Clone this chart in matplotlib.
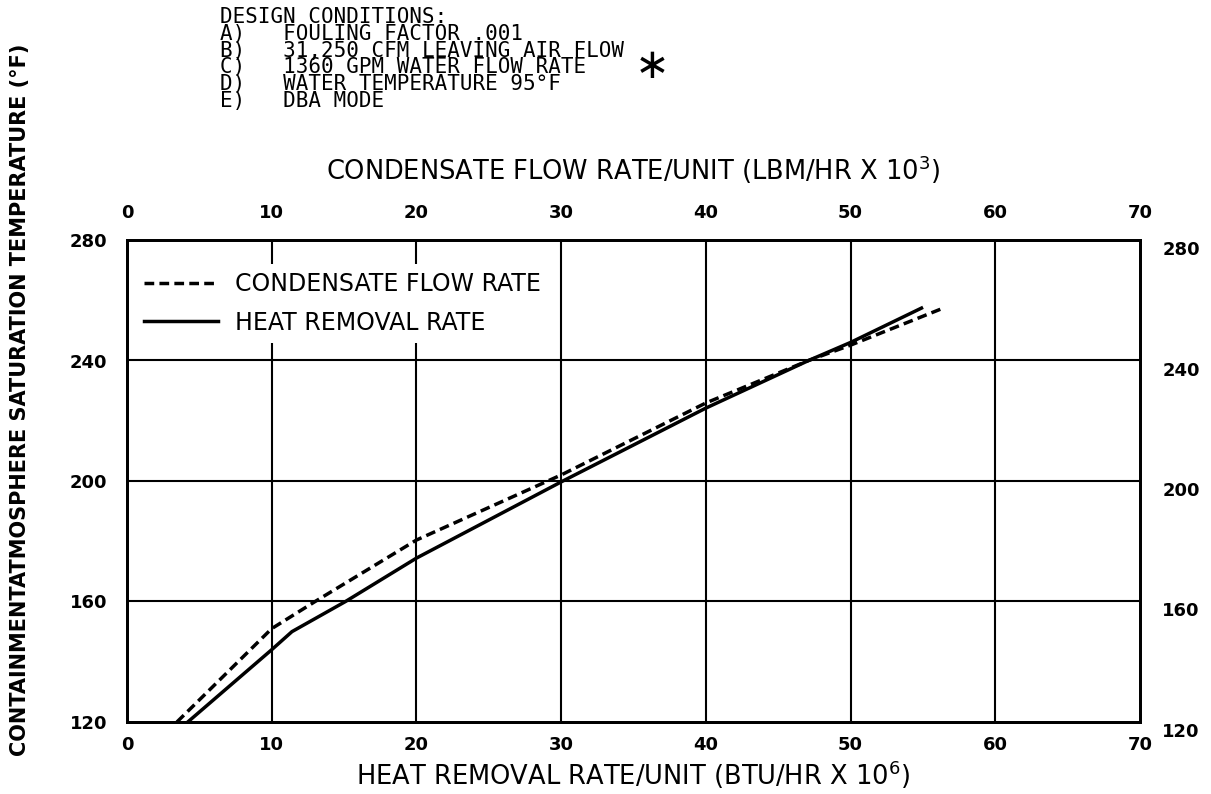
import matplotlib
matplotlib.use("Agg")
import matplotlib.pyplot as plt
from matplotlib.transforms import ScaledTranslation

# ---- data ----
condensate_x = [3.45, 10, 13, 20, 30, 40, 47.1, 50, 56.2]
condensate_y = [120, 151, 160, 180.4, 202, 225.9, 240, 245.1, 257]
heat_x = [4.2, 10, 11.4, 15.1, 20, 30, 40, 47.1, 50, 54.9]
heat_y = [120, 144, 150, 160, 174.4, 199.7, 224.2, 240, 246, 257.4]

x_ticks = [0, 10, 20, 30, 40, 50, 60, 70]
y_ticks = [120, 160, 200, 240, 280]
x_grid = [10, 20, 30, 40, 50, 60]
y_grid = [160, 200, 240]

design_title = "DESIGN CONDITIONS:"
design_labels = ["A)", "B)", "C)", "D)", "E)"]
design_items = ["FOULING FACTOR .001",
                "31,250 CFM LEAVING AIR FLOW",
                "1360 GPM WATER FLOW RATE",
                "WATER TEMPERATURE 95\u00b0F",
                "DBA MODE"]

W, H = 1211, 794
fig = plt.figure(figsize=(W / 100, H / 100), dpi=100)
fig.patch.set_facecolor("white")

L, R, T, B = 127, 1140, 240, 722
ax = fig.add_axes([L / W, 1 - B / H, (R - L) / W, (B - T) / H])
ax.set_xlim(0, 70)
ax.set_ylim(120, 280)

for gx in x_grid:
    ax.axvline(gx, color="black", lw=1.5, zorder=1)
for gy in y_grid:
    ax.axhline(gy, color="black", lw=1.5, zorder=1)

ax.plot(condensate_x, condensate_y, color="black", lw=2.5,
        linestyle=(0, (2.8, 1.5)), label="CONDENSATE FLOW RATE", zorder=3)
ax.plot(heat_x, heat_y, color="black", lw=2.5, linestyle="-",
        label="HEAT REMOVAL RATE", zorder=3)

for s in ax.spines.values():
    s.set_linewidth(1.9)

tick_font = dict(fontsize=13, fontweight="bold")
ax.set_xticks(x_ticks)
ax.set_xticklabels([str(v) for v in x_ticks], **tick_font)
ax.set_yticks(y_ticks)
ax.set_yticklabels([str(v) for v in y_ticks], **tick_font)
ax.tick_params(axis="x", length=0, pad=10)
ax.tick_params(axis="y", length=0, pad=14)

ax_top = ax.twiny()
ax_top.set_xlim(0, 70)
ax_top.set_xticks(x_ticks)
ax_top.set_xticklabels([str(v) for v in x_ticks], **tick_font)
ax_top.tick_params(axis="x", length=0, pad=13)

ax_right = ax.twinx()
ax_right.set_ylim(120, 280)
ax_right.set_yticks(y_ticks)
ax_right.set_yticklabels([str(v) for v in y_ticks], **tick_font)
ax_right.tick_params(axis="y", length=0, pad=16)
off = ScaledTranslation(0, -0.08, fig.dpi_scale_trans)
for lab in ax_right.get_yticklabels():
    lab.set_transform(lab.get_transform() + off)

for a in (ax_top, ax_right):
    for s in a.spines.values():
        s.set_linewidth(1.9)

leg = ax.legend(loc="upper left", bbox_to_anchor=(0.009, 0.95),
                borderaxespad=0, fontsize=17, handlelength=3.1,
                handletextpad=0.75, labelspacing=0.6, borderpad=0.35,
                frameon=True, fancybox=False, framealpha=1.0,
                edgecolor="none", facecolor="white")
leg.set_zorder(5)

# axis titles
fig.text((L + R) / 2 / W, 1 - 170 / H,
         "CONDENSATE FLOW RATE/UNIT (LBM/HR X 10$^{3}$)",
         ha="center", va="center", fontsize=18.5)
fig.text((L + R) / 2 / W, 1 - 775 / H,
         "HEAT REMOVAL RATE/UNIT (BTU/HR X 10$^{6}$)",
         ha="center", va="center", fontsize=18.5)
fig.text(20 / W, 1 - 400 / H,
         "CONTAINMENTATMOSPHERE SATURATION TEMPERATURE (\u00b0F)",
         ha="center", va="center", rotation=90, fontsize=15,
         fontweight="bold")

# design conditions block (one multi-line text in a monospaced face)
block_lines = [design_title] + [f"{lab:<5}{item}" for lab, item in
                                zip(design_labels, design_items)]
fig.text(220 / W, 1 - 107 / H, "\n".join(block_lines),
         ha="left", va="baseline", fontsize=15, family="DejaVu Sans Mono",
         linespacing=0.8)
fig.text(652 / W, 1 - 66 / H, "\u2217", ha="center", va="center",
         fontsize=30)

fig.savefig("out.png", dpi=100, facecolor="white")
